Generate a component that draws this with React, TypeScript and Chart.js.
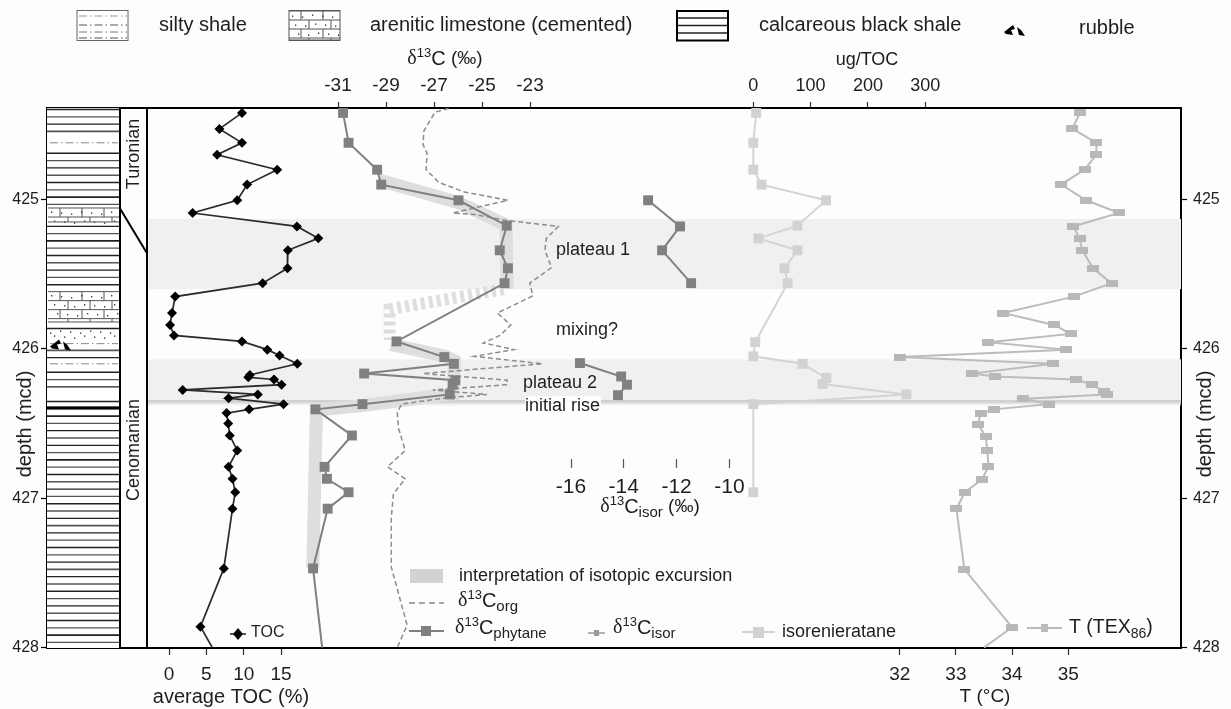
import React, { useEffect, useRef } from "react";
import { Chart, registerables } from "chart.js";

Chart.register(...registerables);

// ---------- data ----------
const tocDepth = [424.42,424.527,424.62,424.70,424.80,424.90,425.005,425.09,425.18,425.26,425.34,425.46,425.56,425.65,425.76,425.84,425.91,425.95,426.005,426.045,426.10,426.175,426.19,426.205,426.24,426.275,426.305,426.33,426.37,426.405,426.43,426.50,426.58,426.68,426.79,426.87,426.96,427.07,427.47,427.86,428.0];
const tocValue = [9.77,6.75,9.77,6.44,14.48,10.46,9.14,3.16,17.13,19.99,15.91,15.86,12.53,0.83,0.40,0.14,0.67,9.77,13.16,14.8,17.18,10.83,10.62,14.06,15.07,1.83,11.89,7.97,15.33,10.73,7.71,7.92,8.13,9.14,7.97,8.5,8.87,8.5,7.34,4.21,5.8];

const phyDepth = [424.42,424.62,424.80,424.90,425.005,425.175,425.34,425.46,425.56,425.95,426.055,426.10,426.165,426.21,426.24,426.305,426.37,426.405,426.58,426.79,426.87,426.96,427.07,427.47,428.0];
const phyValue = [-30.79,-30.56,-29.37,-29.2,-25.98,-23.97,-24.26,-23.92,-24.06,-28.56,-26.57,-26.17,-29.91,-26.11,-26.22,-26.34,-29.98,-31.94,-30.42,-31.56,-31.46,-30.56,-31.43,-32.04,-31.66];

const orgDepth = [424.39,424.415,424.54,424.63,424.69,424.80,424.885,424.95,425.005,425.05,425.09,425.10,425.14,425.18,425.26,425.34,425.455,425.56,425.645,425.76,425.84,425.91,425.96,426.005,426.05,426.10,426.165,426.21,426.24,426.275,426.305,426.33,426.37,426.43,426.53,426.68,426.79,426.87,426.97,427.13,427.46,427.85,428.0];
const orgValue = [-26.39,-26.96,-27.42,-27.46,-27.29,-27.33,-26.8,-25.73,-23.92,-25.15,-26.22,-25.32,-23.97,-21.82,-22.32,-22.38,-22.1,-23.01,-22.88,-24.36,-23.8,-24.25,-24.95,-23.67,-25.32,-22.48,-27.46,-23.95,-23.95,-27.05,-24.79,-26.6,-28.36,-28.53,-28.48,-28.2,-28.94,-28.2,-28.69,-28.78,-28.78,-28.12,-28.53];

const isorUpperDepth = [425.005,425.18,425.34,425.56];
const isorUpperValue = [-13.08,-11.87,-12.55,-11.45];
const isorLowerDepth = [426.095,426.185,426.24,426.31];
const isorLowerValue = [-15.66,-14.1,-13.88,-14.22];

const irnDepth = [424.42,424.62,424.80,424.90,425.005,425.175,425.26,425.34,425.46,425.56,425.955,426.05,426.10,426.195,426.235,426.305,426.37,426.96];
const irnValue = [5,0,0,14.5,127,77,9,77,54.5,60,3.4,0,86,127.6,120.7,267,0,0];

const texDepth = [424.42,424.525,424.62,424.70,424.80,424.90,425.005,425.09,425.18,425.26,425.34,425.46,425.56,425.65,425.76,425.84,425.90,425.955,426.005,426.055,426.10,426.165,426.185,426.205,426.24,426.285,426.305,426.335,426.37,426.405,426.435,426.505,426.585,426.68,426.79,426.875,426.96,427.07,427.475,427.865,428.0];
const texValue = [35.21,35.07,35.5,35.5,35.29,34.87,35.32,35.9,35.09,35.2,35.25,35.44,35.77,35.1,33.84,34.75,35.04,33.58,34.96,32.0,34.73,33.29,33.69,35.13,35.43,35.63,35.68,34.2,34.65,33.67,33.44,33.39,33.53,33.56,33.58,33.46,33.16,33.01,33.15,34.0,33.5];

const excursionSolidADepth = [424.87,425.02,425.17,425.6];
const excursionSolidAValue = [-29.3,-25.98,-24.0,-23.95];
const excursionDashDepth = [425.6,425.735,425.94];
const excursionDashValue = [-24.1,-28.85,-28.85];
const excursionSolidBDepth = [425.97,426.05,426.08,426.3,426.38,426.41,427.47];
const excursionSolidBValue = [-28.8,-26.5,-26.15,-26.2,-29.98,-31.9,-32.05];

const plateauBands = [[425.13,425.6],[426.07,426.35]];

const depthTicks = [425,426,427,428];
const tocTicks = [0,5,10,15];
const carbonTicks = [-31,-29,-27,-25,-23];
const isorTicks = [-16,-14,-12,-10];
const irnTicks = [0,100,200,300];
const tempTicks = [32,33,34,35];

type Layer = { kind: string; from: number; to: number };
const lithology: Layer[] = [
  { kind: "shale", from: 424.39, to: 424.58 },
  { kind: "silty", from: 424.58, to: 424.66 },
  { kind: "shale", from: 424.66, to: 425.05 },
  { kind: "lime", from: 425.05, to: 425.15 },
  { kind: "shale", from: 425.15, to: 425.61 },
  { kind: "lime", from: 425.61, to: 425.82 },
  { kind: "shale", from: 425.82, to: 425.87 },
  { kind: "dots", from: 425.87, to: 425.94 },
  { kind: "silty", from: 425.94, to: 425.99 },
  { kind: "shale", from: 425.99, to: 426.07 },
  { kind: "silty", from: 426.07, to: 426.13 },
  { kind: "shale", from: 426.13, to: 426.26 },
  { kind: "blank", from: 426.26, to: 426.33 },
  { kind: "shale", from: 426.33, to: 428.0 },
];
const blackBedDepth = [426.385,426.405];

const FONT = '"Liberation Sans", Arial, sans-serif';
const SERIF = '"Liberation Serif", serif';
const INK = "#1e1e1e";

// ---------- pattern helpers ----------
function shaleLines(c: CanvasRenderingContext2D, x0: number, x1: number, y0: number, y1: number) {
  const step = 7.3;
  let i = Math.ceil(y0 / step);
  for (let y = i * step; y < y1; y += step, i++) {
    c.strokeStyle = i % 2 ? "#222" : "#555";
    c.lineWidth = i % 3 === 0 ? 1.6 : 1.3;
    c.beginPath(); c.moveTo(x0, y); c.lineTo(x1, y); c.stroke();
  }
}
function dashDot(c: CanvasRenderingContext2D, x0: number, x1: number, y: number, col = "#888") {
  c.strokeStyle = col; c.lineWidth = 1; c.setLineDash([8, 3, 1.5, 3]);
  c.beginPath(); c.moveTo(x0, y); c.lineTo(x1, y); c.stroke();
  c.setLineDash([]);
}
function dots(c: CanvasRenderingContext2D, x0: number, x1: number, y: number, off = 0) {
  c.fillStyle = "#222";
  for (let x = x0 + 3 + off; x < x1 - 1; x += 10) c.fillRect(x, y + ((Math.round(x) % 3) - 1), 1.3, 1.3);
}
function limestone(c: CanvasRenderingContext2D, x0: number, x1: number, y0: number, y1: number) {
  c.strokeStyle = "#555"; c.lineWidth = 1;
  let r = 0;
  const h = 9;
  for (let y = y0; y < y1 - 1; y += h, r++) {
    c.beginPath(); c.moveTo(x0, y); c.lineTo(x1, y); c.stroke();
    for (let x = x0 + 12 + (r % 2) * 8; x < x1; x += 22) {
      c.beginPath(); c.moveTo(x, y); c.lineTo(x, Math.min(y + h, y1)); c.stroke();
    }
    if (y + h / 2 < y1) dots(c, x0, x1, y + h / 2, r * 3);
  }
  c.beginPath(); c.moveTo(x0, y1); c.lineTo(x1, y1); c.stroke();
}
function rubble(c: CanvasRenderingContext2D, x: number, y: number) {
  c.fillStyle = "#000";
  c.beginPath(); c.moveTo(x, y + 8); c.lineTo(x + 9, y + 1); c.lineTo(x + 11, y + 5); c.lineTo(x + 7, y + 6); c.lineTo(x + 9, y + 11); c.lineTo(x + 2, y + 10); c.closePath(); c.fill();
  c.beginPath(); c.moveTo(x + 13, y + 3); c.lineTo(x + 17, y + 6); c.lineTo(x + 21, y + 12); c.lineTo(x + 15, y + 11); c.closePath(); c.fill();
}

type Run = { t: string; size?: number; font?: string; dy?: number };
function rich(c: CanvasRenderingContext2D, x: number, y: number, runs: Run[], align: "left" | "center" = "left") {
  c.textBaseline = "middle"; c.textAlign = "left"; c.fillStyle = INK;
  const f = (r: Run) => `${r.size ?? 20}px ${r.font ?? FONT}`;
  let w = 0;
  for (const r of runs) { c.font = f(r); w += c.measureText(r.t).width; }
  let px = align === "center" ? x - w / 2 : x;
  for (const r of runs) { c.font = f(r); c.fillText(r.t, px, y + (r.dy ?? 0)); px += c.measureText(r.t).width; }
}
const delta = (sub: string, suffix = ""): Run[] => {
  const runs: Run[] = [
    { t: "δ", font: SERIF, size: 20 },
    { t: "13", size: 13, dy: -6 },
    { t: "C", size: 20 },
  ];
  if (sub) runs.push({ t: sub, size: 15, dy: 6 });
  if (suffix) runs.push({ t: suffix, size: 19 });
  return runs;
};

const backdrop = {
  id: "backdrop",
  beforeDatasetsDraw(chart: any) {
    const c: CanvasRenderingContext2D = chart.ctx;
    const y = chart.scales.y;
    const { left, right, top, bottom } = chart.chartArea;
    const plotL = 147, stratR = 120;
    c.save();
    // plateau bands
    c.fillStyle = "#f0f0f0";
    for (const [a, b] of plateauBands) {
      c.fillRect(plotL, y.getPixelForValue(a), right - plotL, y.getPixelForValue(b) - y.getPixelForValue(a));
    }
    const gy = y.getPixelForValue(plateauBands[1][1]);
    const g = c.createLinearGradient(0, gy - 1, 0, gy + 6);
    g.addColorStop(0, "#c8c8c8"); g.addColorStop(0.35, "#d8d8d8"); g.addColorStop(1, "rgba(253,253,253,0)");
    c.fillStyle = g; c.fillRect(plotL, gy - 1, right - plotL, 7);

    // lithology column
    c.fillStyle = "#fff"; c.fillRect(left, top, stratR - left, bottom - top);
    for (const l of lithology) {
      const a = y.getPixelForValue(l.from), b = y.getPixelForValue(l.to);
      if (l.kind === "shale") shaleLines(c, left, stratR, a, b);
      if (l.kind === "lime") limestone(c, left + 1, stratR - 1, a + 1, b);
      if (l.kind === "silty") dashDot(c, left + 3, stratR - 2, (a + b) / 2);
      if (l.kind === "dots") { dots(c, left, stratR, a + 2); dots(c, left, stratR, a + 7, 4); }
    }
    const by0 = y.getPixelForValue(blackBedDepth[0]), by1 = y.getPixelForValue(blackBedDepth[1]);
    c.fillStyle = "#000"; c.fillRect(left, by0, stratR - left, by1 - by0);
    rubble(c, left + 3, y.getPixelForValue(425.93));

    // column frames
    c.strokeStyle = "#000"; c.lineWidth = 2;
    for (const x of [stratR, plotL]) { c.beginPath(); c.moveTo(x, top); c.lineTo(x, bottom); c.stroke(); }
    c.beginPath(); c.moveTo(stratR, y.getPixelForValue(425.06)); c.lineTo(plotL, y.getPixelForValue(425.36)); c.stroke();
    c.restore();
  },
  afterDatasetsDraw(chart: any) {
    const c: CanvasRenderingContext2D = chart.ctx;
    c.save();
    c.fillStyle = "rgba(255,255,255,0.9)"; c.fillRect(525, 396, 76, 20);
    const txt = (t: string, x: number, yy: number, size = 18, al: CanvasTextAlign = "left") => {
      c.font = `${size}px ${FONT}`; c.fillStyle = INK; c.textAlign = al; c.textBaseline = "middle"; c.fillText(t, x, yy);
    };
    // annotations
    txt("plateau 1", 556, 250);
    txt("mixing?", 556, 330);
    txt("plateau 2", 523, 383);
    txt("initial rise", 525, 406);

    // rotated age labels and depth titles
    const vtxt = (t: string, x: number, yy: number, size: number) => {
      c.save(); c.translate(x, yy); c.rotate(-Math.PI / 2);
      c.font = `${size}px ${FONT}`; c.fillStyle = INK; c.textAlign = "center"; c.textBaseline = "middle"; c.fillText(t, 0, 0); c.restore();
    };
    vtxt("Turonian", 134, 154, 18);
    vtxt("Cenomanian", 134, 450, 18);
    vtxt("depth (mcd)", 25, 424, 20);
    vtxt("depth (mcd)", 1205, 424, 20);

    // top legend
    const swatch = (x: number, w = 51) => {
      c.fillStyle = "#fff"; c.fillRect(x, 10, w, 31);
    };
    swatch(77); dashDot(c, 79, 127, 16, "#999"); dashDot(c, 79, 127, 25, "#555"); dashDot(c, 79, 127, 32, "#777"); dashDot(c, 79, 127, 38, "#555");
    c.strokeStyle = "#666"; c.lineWidth = 1; c.strokeRect(77, 10.5, 51, 30);
    swatch(289); limestone(c, 289, 340, 11, 40); c.strokeStyle = "#555"; c.lineWidth = 1; c.strokeRect(289, 10.5, 51, 30);
    swatch(677);
    c.strokeStyle = "#222"; c.lineWidth = 1.3;
    for (const yy of [18, 25.5, 33]) { c.beginPath(); c.moveTo(677, yy); c.lineTo(728, yy); c.stroke(); }
    c.strokeStyle = "#000"; c.lineWidth = 2; c.strokeRect(677, 11, 51, 29.5);
    rubble(c, 1004, 24);
    txt("silty shale", 159, 25, 20);
    txt("arenitic limestone (cemented)", 370, 25, 20);
    txt("calcareous black shale", 759, 25, 20);
    txt("rubble", 1079, 28, 20);

    // axis titles
    rich(c, 445, 59, [...delta("", " (‰)")], "center");
    txt("ug/TOC", 867, 60, 18, "center");
    txt("average TOC (%)", 231, 697, 20, "center");
    txt("T (°C)", 985, 697, 19, "center");
    rich(c, 650, 507, [...delta("isor", " (‰)")], "center");

    // bottom legend
    c.fillStyle = "#d2d2d2"; c.fillRect(410, 569, 33, 14);
    txt("interpretation of isotopic excursion", 459, 576, 18);
    c.strokeStyle = "#888"; c.lineWidth = 1.6; c.setLineDash([6, 4]);
    c.beginPath(); c.moveTo(409, 603); c.lineTo(444, 603); c.stroke(); c.setLineDash([]);
    rich(c, 458, 601, delta("org"));
    c.strokeStyle = "#808080"; c.lineWidth = 2;
    c.beginPath(); c.moveTo(409, 631); c.lineTo(444, 631); c.stroke();
    c.fillStyle = "#808080"; c.fillRect(421, 626, 10, 10);
    rich(c, 455, 628, delta("phytane"));
    c.strokeStyle = "#999"; c.lineWidth = 1.5;
    c.beginPath(); c.moveTo(588, 633); c.lineTo(605, 633); c.stroke();
    c.fillStyle = "#999"; c.fillRect(594, 630, 5, 6);
    rich(c, 613, 628, delta("isor"));
    c.strokeStyle = "#d2d2d2"; c.lineWidth = 2;
    c.beginPath(); c.moveTo(742, 632); c.lineTo(775, 632); c.stroke();
    c.fillStyle = "#d2d2d2"; c.fillRect(753, 627, 11, 11);
    txt("isorenieratane", 782, 632, 18);
    c.strokeStyle = "#bbb"; c.lineWidth = 2;
    c.beginPath(); c.moveTo(1027, 628); c.lineTo(1062, 628); c.stroke();
    c.fillStyle = "#bbb"; c.fillRect(1041, 624, 7, 8);
    rich(c, 1069, 628, [{ t: "T (TEX", size: 19.5 }, { t: "86", size: 14, dy: 6 }, { t: ")", size: 19.5 }]);
    // TOC legend
    c.strokeStyle = "#222"; c.lineWidth = 1.5;
    c.beginPath(); c.moveTo(230, 634); c.lineTo(246, 634); c.stroke();
    c.fillStyle = "#000"; c.beginPath(); c.moveTo(238, 628); c.lineTo(243, 634); c.lineTo(238, 640); c.lineTo(233, 634); c.closePath(); c.fill();
    txt("TOC", 251, 633, 16);
    c.restore();
  },
};

// maps a value at a known pixel with px/unit onto an axis spanning the plot width
const L = 47, R = 1181;
const xRange = (zeroVal: number, zeroPx: number, pxPerUnit: number) => ({
  min: zeroVal + (L - zeroPx) / pxPerUnit,
  max: zeroVal + (R - zeroPx) / pxPerUnit,
});

const xAxis = (position: any, ticks: number[], range: { min: number; max: number }, opts: any = {}) => ({
  type: "linear",
  axis: "x",
  position,
  ...range,
  afterFit: (s: any) => { s.height = 0; s._computeLabelArea = () => undefined; },
  afterBuildTicks: (s: any) => { s.ticks = ticks.map((value) => ({ value })); },
  border: opts.border ? { display: true, color: "#000", width: 2 } : { display: false },
  grid: { drawOnChartArea: false, drawTicks: true, tickLength: opts.tl ?? 6, tickColor: opts.tickColor ?? "#333", tickWidth: 1.2 },
  ticks: {
    autoSkip: false, maxRotation: 0, minRotation: 0, padding: opts.pad ?? 8,
    color: INK, font: { family: FONT, size: opts.size ?? 19 },
    callback: (v: any) => String(v),
  },
});

const yAxis = (position: string, pad: number) => ({
  type: "linear",
  position,
  reverse: true,
  min: 424.387,
  max: 428.003,
  afterFit: (s: any) => { s.width = 0; s._computeLabelArea = () => undefined; },
  afterBuildTicks: (s: any) => { s.ticks = depthTicks.map((value) => ({ value })); },
  border: { display: true, color: "#000", width: 2 },
  grid: { drawOnChartArea: false, drawTicks: true, tickLength: 6, tickColor: "#000", tickWidth: 1.2 },
  ticks: {
    autoSkip: false, padding: pad, color: INK, font: { family: FONT, size: 16 },
    callback: (v: any) => String(v),
  },
});

const pts = (xs: number[], ys: number[]) => xs.map((x, i) => ({ x, y: ys[i] }));

export default function App() {
  const ref = useRef<HTMLCanvasElement>(null);
  useEffect(() => {
    const flat = document.createElement("canvas");
    flat.width = 12; flat.height = 7;
    const fc = flat.getContext("2d")!;
    fc.fillStyle = "#b8b8b8"; fc.fillRect(0, 0, 12, 7);

    const line = (label: string, xAxisID: string, xs: number[], ys: number[], o: any) => ({
      label, xAxisID, yAxisID: "y", data: pts(xs, ys), showLine: true, tension: 0, ...o,
    });
    const chart = new Chart(ref.current!, {
      type: "scatter",
      data: {
        datasets: [
          line("TOC", "xToc", tocValue, tocDepth, { borderColor: "#2a2a2a", borderWidth: 1.7, pointStyle: "rectRot", pointRadius: tocDepth.map((d) => (d >= 428 ? 0 : 5)), backgroundColor: "#000", pointBorderWidth: 0 }),
          line("δ13C isor", "xIsor", isorUpperValue, isorUpperDepth, { borderColor: "#808080", borderWidth: 2, pointStyle: "rect", pointRadius: 7, backgroundColor: "#808080", pointBorderWidth: 0 }),
          line("δ13C isor 2", "xIsor", isorLowerValue, isorLowerDepth, { borderColor: "#808080", borderWidth: 2, pointStyle: "rect", pointRadius: 7, backgroundColor: "#808080", pointBorderWidth: 0 }),
          line("δ13C phytane", "xCarbon", phyValue, phyDepth, { borderColor: "#808080", borderWidth: 2, pointStyle: "rect", pointRadius: phyDepth.map((d) => (d >= 428 ? 0 : 7)), backgroundColor: "#808080", pointBorderWidth: 0 }),
          line("δ13C org", "xCarbon", orgValue, orgDepth, { borderColor: "#8c8c8c", borderWidth: 1.5, borderDash: [5, 3], pointRadius: 0 }),
          line("TEX86", "xTemp", texValue, texDepth, { borderColor: "#bcbcbc", borderWidth: 2, pointStyle: flat, pointRadius: texDepth.map((d) => (d >= 428 ? 0 : 6)), backgroundColor: "#b8b8b8", pointBorderWidth: 0 }),
          line("isorenieratane", "xIrn", irnValue, irnDepth, { borderColor: "#d4d4d4", borderWidth: 2, pointStyle: "rect", pointRadius: 7, backgroundColor: "#d2d2d2", pointBorderWidth: 0 }),
          line("excursion A", "xCarbon", excursionSolidAValue, excursionSolidADepth, { borderColor: "#dedede", borderWidth: 13, borderCapStyle: "butt", borderJoinStyle: "miter", pointRadius: 0 }),
          line("excursion B", "xCarbon", excursionDashValue, excursionDashDepth, { borderColor: "#dedede", borderWidth: 12, borderDash: [4, 4], borderCapStyle: "butt", pointRadius: 0 }),
          line("excursion C", "xCarbon", excursionSolidBValue, excursionSolidBDepth, { borderColor: "#dedede", borderWidth: 13, borderCapStyle: "butt", borderJoinStyle: "miter", pointRadius: 0 }),
        ],
      },
      options: {
        animation: false,
        responsive: false,
        devicePixelRatio: 1,
        layout: { autoPadding: false, padding: { left: L, right: 1231 - R, top: 108, bottom: 709 - 648 } },
        plugins: { legend: { display: false }, tooltip: { enabled: false } },
        scales: {
          y: yAxis("left", 2),
          yRight: yAxis("right", 6),
          xToc: xAxis("bottom", tocTicks, xRange(0, 169, 7.47), { border: true, tl: 7, pad: 8 }),
          xCarbon: xAxis("top", carbonTicks, xRange(-31, 338, 24), { border: true, tl: 6, pad: 5 }),
          xIrn: xAxis("top", irnTicks, xRange(0, 753.3, 0.573), { tl: 6, pad: 5, size: 18 }),
          xTemp: xAxis("bottom", tempTicks, xRange(32, 899.7, 56.2), { tl: 7, pad: 8 }),
          xIsor: xAxis({ y: 426.735 }, isorTicks, xRange(-16, 571, 26.4), { tl: 9, pad: 7, tickColor: "#555", size: 21 }),
        } as any,
      } as any,
      plugins: [backdrop as any],
    });
    return () => chart.destroy();
  }, []);
  return (
    <div style={{ position: "fixed", left: 0, top: 0, width: 1231, height: 709, background: "#fdfdfd" }}>
      <canvas ref={ref} width={1231} height={709} style={{ display: "block" }} />
    </div>
  );
}
